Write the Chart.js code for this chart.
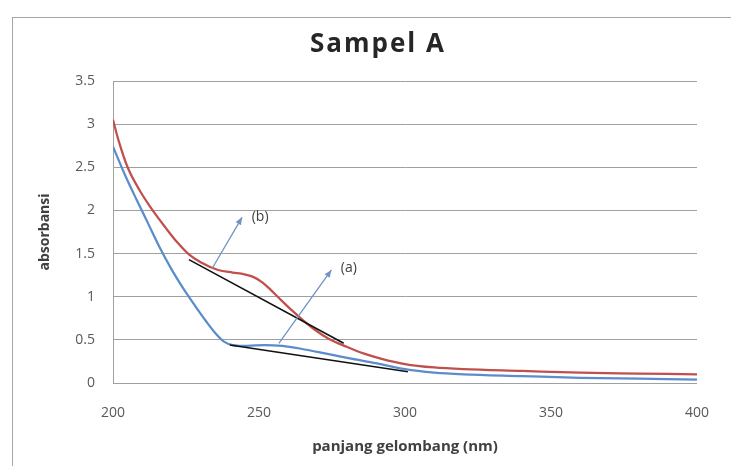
<!DOCTYPE html>
<html>
<head>
<meta charset="utf-8">
<title>Sampel A</title>
<script src="https://cdn.jsdelivr.net/npm/chart.js@4/dist/chart.umd.min.js"></script>
<style>
    html, body { margin: 0; padding: 0; background: #fff; }
    #wrap { width: 731px; height: 466px; position: relative; }
</style>
</head>
<body>
<div id="wrap"><canvas id="spectrum"></canvas></div>
<script>
// absorbance spectra (nm, absorbance)
const curveBNm = [200, 202, 205, 209, 213.6, 218, 222, 226, 230, 236, 241, 245, 248, 251, 254, 257, 261, 265, 269, 274, 280, 286, 292, 300, 310, 320, 340, 360, 380, 400];
const curveBAbs = [3.05, 2.80, 2.50, 2.24, 2.00, 1.80, 1.63, 1.49, 1.40, 1.31, 1.28, 1.26, 1.23, 1.17, 1.08, 0.98, 0.85, 0.73, 0.62, 0.51, 0.42, 0.34, 0.28, 0.22, 0.18, 0.16, 0.14, 0.12, 0.11, 0.10];

const curveANm = [200, 204, 208, 212, 216, 220, 224, 228, 232, 235, 238, 241, 246, 252, 258, 264, 270, 276, 282, 290, 300, 310, 320, 340, 360, 380, 400];
const curveAAbs = [2.74, 2.42, 2.13, 1.85, 1.57, 1.32, 1.10, 0.90, 0.71, 0.58, 0.48, 0.44, 0.43, 0.44, 0.43, 0.40, 0.36, 0.32, 0.28, 0.23, 0.16, 0.12, 0.10, 0.08, 0.06, 0.05, 0.04];

// straight tangent segments
const tangentBNm = [226, 279];
const tangentBAbs = [1.43, 0.46];
const tangentANm = [240, 301];
const tangentAAbs = [0.44, 0.13];

// arrow callouts: tail, head and label anchor in data units
const calloutText = ["(b)", "(a)"];
const calloutTail = [[234, 1.33], [256.8, 0.46]];
const calloutHead = [[244.2, 1.92], [274.8, 1.31]];
const calloutLabel = [[247.5, 1.92], [278, 1.33]];

const xTicks = [200, 250, 300, 350, 400];
const yTicks = [0, 0.5, 1, 1.5, 2, 2.5, 3, 3.5];

const chartTitle = "Sampel A";

const FONT = "'Open Sans', 'Liberation Sans', sans-serif";

const toPoints = (xs, ys) => xs.map((v, i) => ({ x: v, y: ys[i] }));

// white page, outer chart border and the title (centred on the full chart box)
const chartFrame = {
    id: "chartFrame",
    beforeDraw(chart) {
        const ctx = chart.ctx;
        ctx.save();
        ctx.fillStyle = "#ffffff";
        ctx.fillRect(0, 0, chart.width, chart.height);
        ctx.strokeStyle = "#a6a6a6";
        ctx.lineWidth = 1;
        ctx.strokeRect(12.5, 17.5, chart.width, chart.height);

        ctx.fillStyle = "#262626";
        ctx.font = "bold 26px " + FONT;
        ctx.letterSpacing = "2px";
        ctx.textAlign = "center";
        ctx.textBaseline = "middle";
        ctx.fillText(chartTitle, 378, 45);
        ctx.restore();
    }
};

const callouts = {
    id: "callouts",
    afterDatasetsDraw(chart) {
        const { ctx, scales: { x, y } } = chart;
        ctx.save();
        calloutText.forEach((text, i) => {
            const x0 = x.getPixelForValue(calloutTail[i][0]);
            const y0 = y.getPixelForValue(calloutTail[i][1]);
            const x1 = x.getPixelForValue(calloutHead[i][0]);
            const y1 = y.getPixelForValue(calloutHead[i][1]);
            const ang = Math.atan2(y1 - y0, x1 - x0);

            ctx.strokeStyle = "#6f93c4";
            ctx.fillStyle = "#6f93c4";
            ctx.lineWidth = 1.3;
            ctx.beginPath();
            ctx.moveTo(x0, y0);
            ctx.lineTo(x1, y1);
            ctx.stroke();

            // arrow head
            const len = 8;
            ctx.beginPath();
            ctx.moveTo(x1, y1);
            ctx.lineTo(x1 - len * Math.cos(ang - 0.4), y1 - len * Math.sin(ang - 0.4));
            ctx.lineTo(x1 - len * Math.cos(ang + 0.4), y1 - len * Math.sin(ang + 0.4));
            ctx.closePath();
            ctx.fill();

            ctx.fillStyle = "#404040";
            ctx.font = "14px " + FONT;
            ctx.textAlign = "left";
            ctx.textBaseline = "middle";
            ctx.fillText(text, x.getPixelForValue(calloutLabel[i][0]), y.getPixelForValue(calloutLabel[i][1]));
        });
        ctx.restore();
    }
};

const ctx = document.getElementById("spectrum").getContext("2d");

new Chart(ctx, {
    type: "line",
    data: {
        datasets: [
            {
                label: "b",
                data: toPoints(curveBNm, curveBAbs),
                borderColor: "#c0504d",
                borderWidth: 2.25,
                cubicInterpolationMode: "monotone",
                pointRadius: 0,
                order: 2,
            },
            {
                label: "a",
                data: toPoints(curveANm, curveAAbs),
                borderColor: "#5b8ccb",
                borderWidth: 2.25,
                cubicInterpolationMode: "monotone",
                pointRadius: 0,
                order: 3,
            },
            {
                label: "tangent b",
                data: toPoints(tangentBNm, tangentBAbs),
                borderColor: "#111111",
                borderWidth: 1.6,
                pointRadius: 0,
                order: 0,
            },
            {
                label: "tangent a",
                data: toPoints(tangentANm, tangentAAbs),
                borderColor: "#111111",
                borderWidth: 1.6,
                pointRadius: 0,
                order: 1,
            },
        ]
    },
    options: {
        responsive: true,
        maintainAspectRatio: false,
        animation: false,
        layout: {
            padding: { top: 81, right: 30, bottom: 0, left: 0 },
        },
        plugins: {
            legend: { display: false },
            tooltip: { enabled: false },
            title: { display: false },
        },
        scales: {
            x: {
                type: "linear",
                min: 200,
                max: 400,
                afterFit: (scale) => { scale.height = 83; },
                afterBuildTicks: (scale) => { scale.ticks = xTicks.map(v => ({ value: v })); },
                grid: { display: false, drawTicks: false },
                border: { display: true, color: "#a0a0a0" },
                ticks: {
                    color: "#595959",
                    padding: 22,
                    maxRotation: 0,
                    font: { family: FONT, size: 14 },
                },
                title: {
                    display: true,
                    text: "panjang gelombang (nm)",
                    color: "#404040",
                    font: { family: FONT, size: 15, weight: "bold" },
                    padding: { top: 0, bottom: 10 },
                },
            },
            y: {
                min: 0,
                max: 3.5,
                afterFit: (scale) => { scale.width = 113; },
                afterBuildTicks: (scale) => { scale.ticks = yTicks.map(v => ({ value: v })); },
                grid: { color: "#a0a0a0", lineWidth: 1, drawTicks: false },
                border: { display: true, color: "#a0a0a0" },
                ticks: {
                    color: "#595959",
                    padding: 18,
                    font: { family: FONT, size: 14 },
                    callback: (v) => String(v),
                },
                title: {
                    display: true,
                    text: "absorbansi",
                    color: "#404040",
                    font: { family: FONT, size: 14, weight: "bold" },
                    padding: { top: 37, bottom: 0 },
                },
            },
        },
    },
    plugins: [chartFrame, callouts],
});
</script>
</body>
</html>
